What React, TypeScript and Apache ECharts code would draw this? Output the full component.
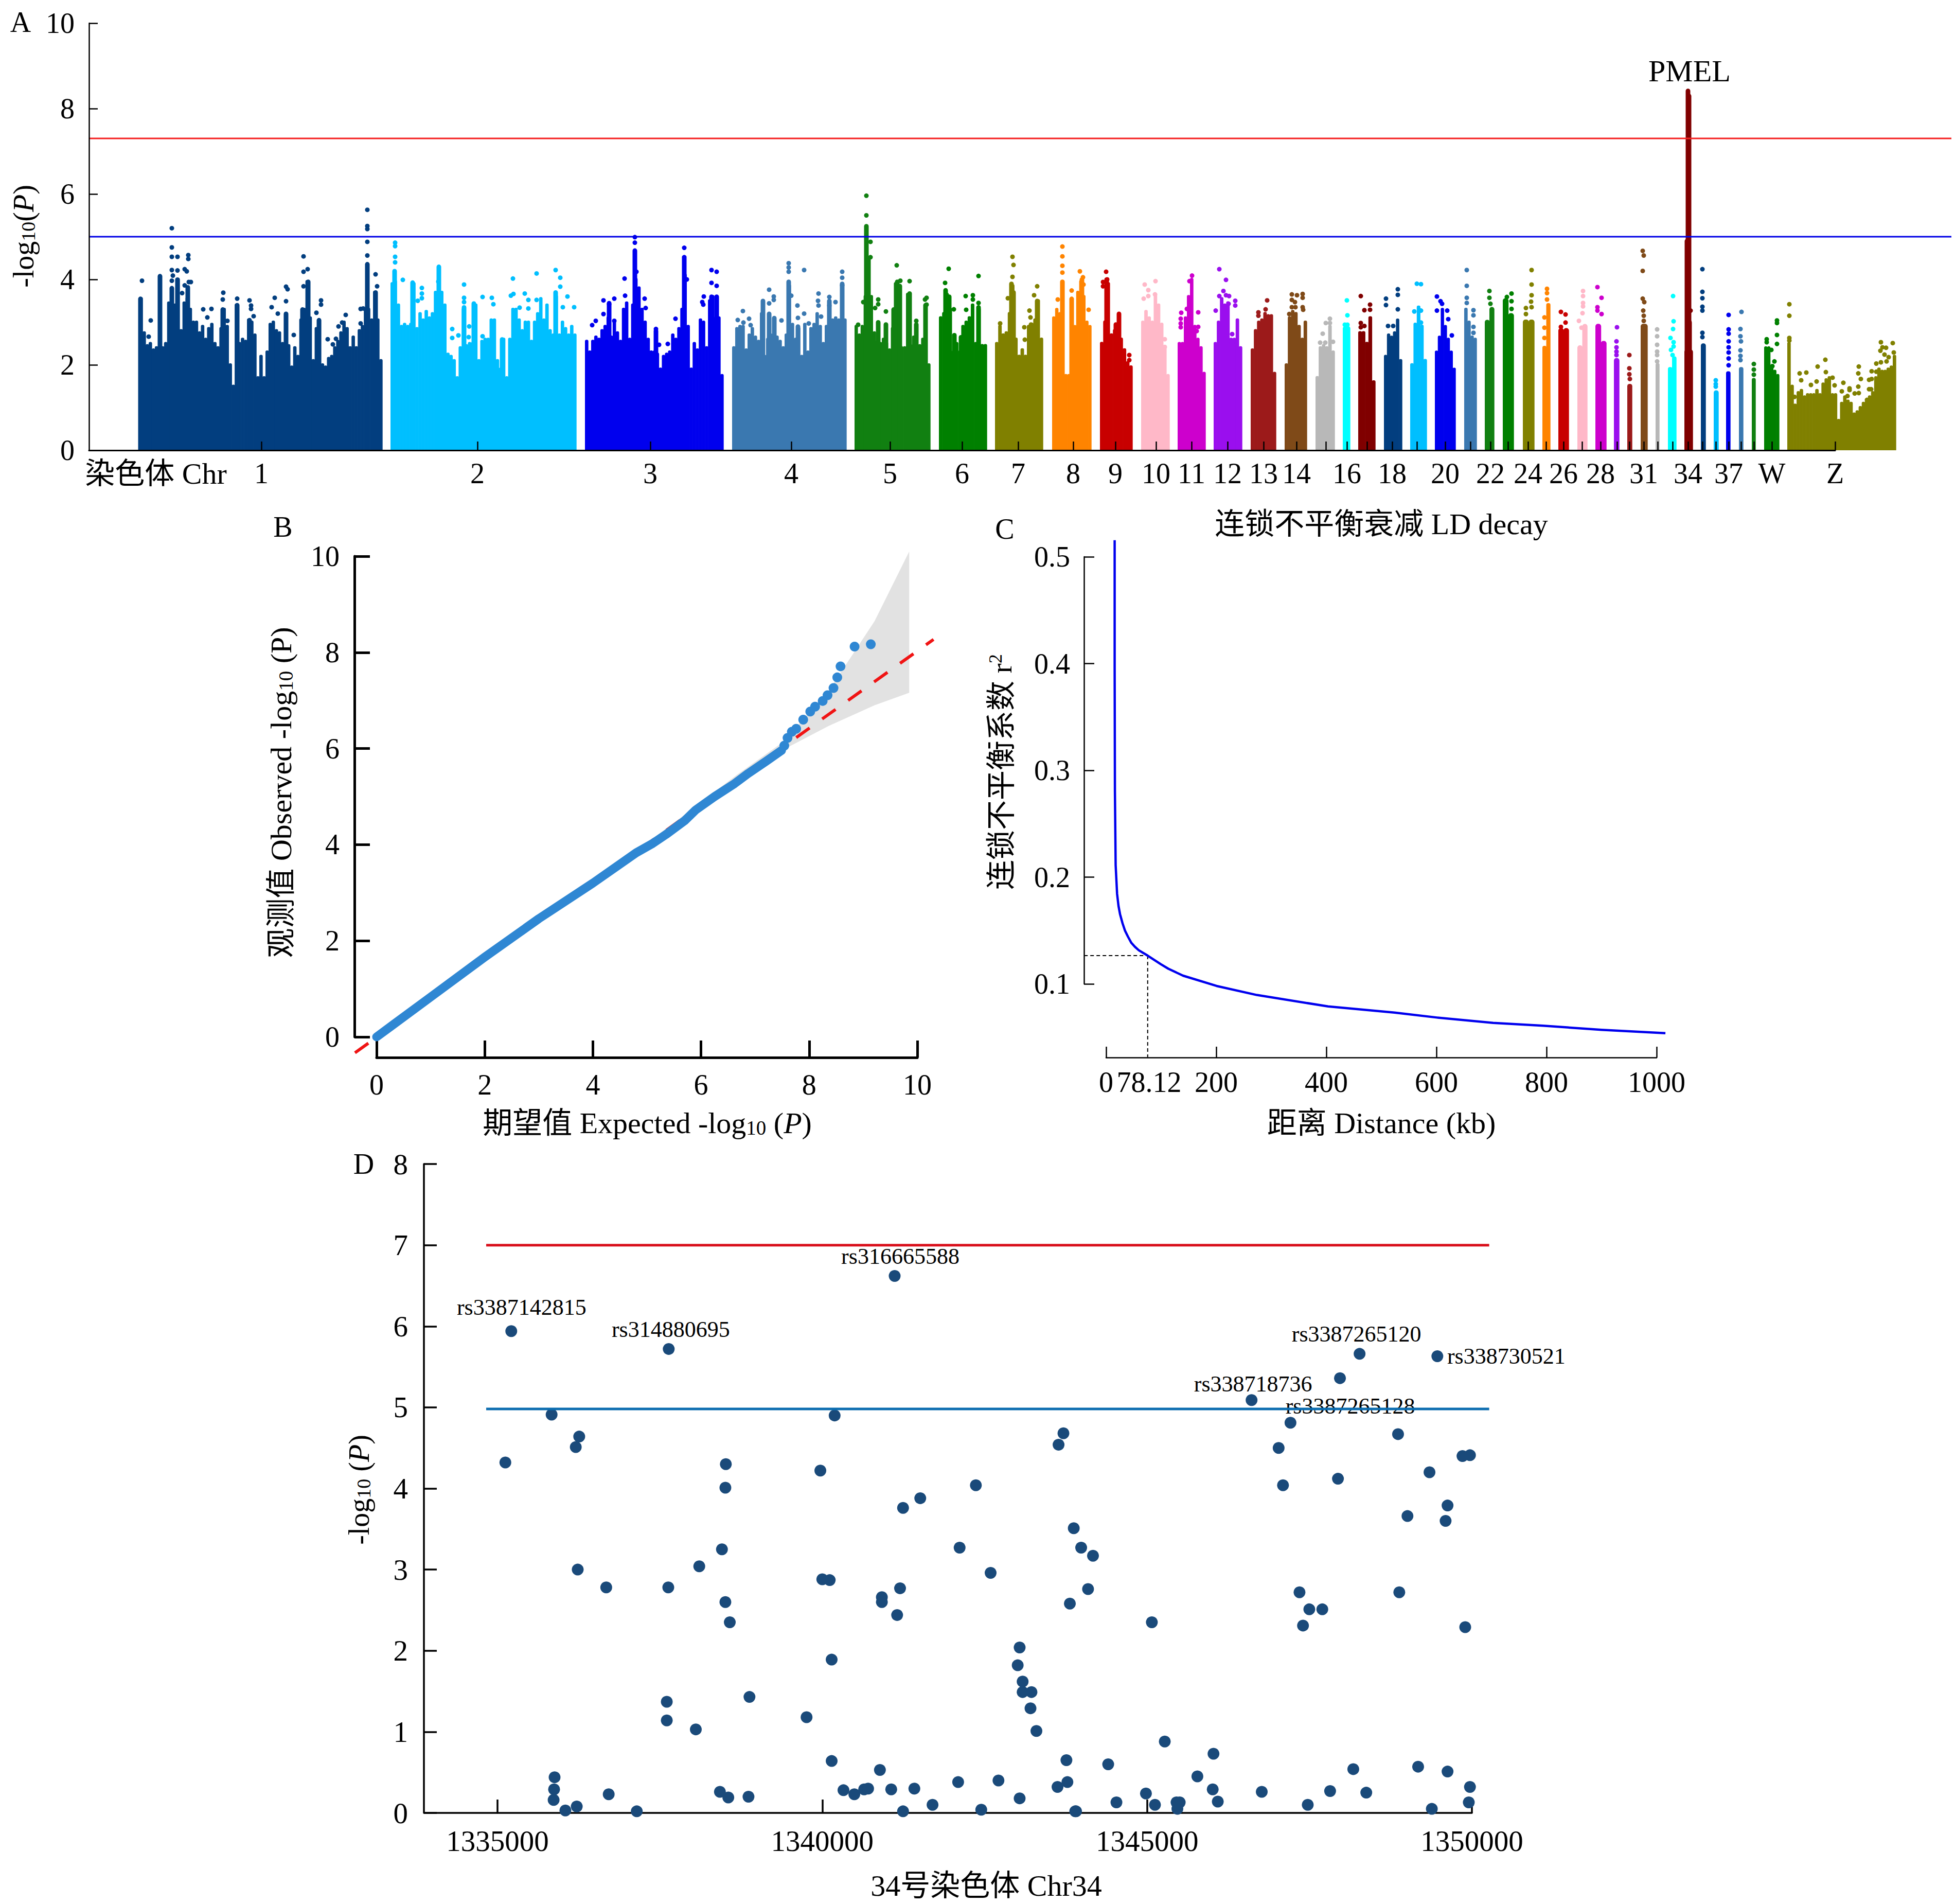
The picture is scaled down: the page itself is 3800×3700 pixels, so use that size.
import React, { useEffect, useRef } from "react";
import * as echarts from "echarts";

const FONT = '"Liberation Serif","Noto Sans CJK SC",serif';
const TICK = 56;

// ---------- Panel A: Manhattan plot ----------
const chromColors = ["#023e7f","#00bfff","#0000ee","#3a78b0","#118011","#008000","#808000","#ff8400","#c80000","#ffb8c8","#cd00cd","#9a0fee","#9c1a1a","#7f4a18","#b8b8b8","#00ffff","#800000","#023e7f","#00bfff","#0000ee","#3a78b0","#118011","#008000","#808000","#ff8400","#c80000","#ffb8c8","#cd00cd","#9a0fee","#9c1a1a","#7f4a18","#b8b8b8","#00ffff","#800000","#023e7f","#00bfff","#0000ee","#3a78b0","#118011","#008000","#808000"];
const chromStart = [98,586,964,1250,1488,1652,1761,1872,1965,2045,2116,2186,2258,2324,2384,2437,2467,2517,2568,2616,2673,2713,2748,2787,2825,2856,2893,2928,2964,2990,3016,3045,3069,3101,3133,3158,3182,3207,3232,3256,3301];
const chromEnd = [570,947,1233,1472,1635,1745,1854,1948,2028,2100,2170,2241,2307,2367,2421,2451,2500,2552,2600,2656,2697,2731,2769,2809,2840,2876,2912,2949,2974,2999,3029,3052,3085,3117,3142,3167,3190,3215,3239,3285,3512];
const chromTicks = [335,755,1091,1365,1557,1697,1806,1913,1995,2074,2143,2213,2283,2347,2404,2445,2484,2533,2581,2636,2685,2724,2758,2797,2832,2866,2902,2938,2970,2994,3022,3049,3078,3108,3136,3162,3187,3211,3236,3271,3394];
const chromLabels = ["1","2","3","4","5","6","7","8","9","10","11","12","13","14","","16","","18","","20","","22","","24","","26","","28","","","31","","","34","","","37","","","W","Z"];

const chr1H = [3.55,2.75,2.45,2.5,2.35,2.4,4.08,2.4,2.5,3.45,3.8,3.4,4.0,2.8,3.45,3.55,3.3,3.0,3.0,2.75,2.9,2.6,2.85,2.95,2.5,2.4,2.85,3.3,2.9,2.0,1.5,3.4,2.5,2.6,2.55,3.05,3.0,2.7,1.7,2.2,1.7,2.3,2.95,3.0,2.8,2.75,2.5,3.2,2.45,1.95,2.4,2.2,3.05,3.3,3.95,3.1,2.1,2.85,3.05,2.0,1.95,2.15,2.2,2.4,2.55,2.75,3.0,2.85,2.4,2.65,2.4,2.8,2.9,3.3,3.3,3.05,3.7,3.05,2.1];
const chr2H = [3.9,3.95,3.4,2.9,2.95,2.9,2.95,3.9,2.85,3.2,3.05,3.25,3.1,3.2,3.7,3.85,3.7,3.4,2.25,2.2,2.1,1.7,2.4,3.3,2.45,2.5,2.5,3.4,2.1,2.55,2.6,2.6,3.05,3.05,2.1,1.9,2.6,1.7,2.6,3.3,3.3,3.05,2.8,3.0,3.0,2.55,3.0,3.2,3.55,3.05,3.4,2.8,2.7,3.6,2.7,3.0,2.85,2.7,2.9,2.7];
const chr3H = [2.55,2.3,2.55,2.65,2.6,2.8,2.9,3.1,2.65,3.0,2.75,2.55,3.3,3.45,2.6,3.4,4.0,3.8,3.3,3.0,2.6,2.3,2.3,2.25,1.9,2.2,2.25,2.3,2.7,2.6,2.85,3.3,4.1,2.9,1.9,2.5,2.35,3.05,3.0,2.4,3.5,3.6,3.1,3.1,1.75];
const chr4H = [2.4,2.85,2.9,2.9,2.35,2.7,2.85,2.65,2.55,3.2,2.2,2.6,2.7,2.9,2.65,2.55,2.4,2.7,3.85,2.95,2.6,2.85,2.2,2.95,2.3,2.85,2.95,3.2,2.9,2.5,2.9,3.3,3.05,3.1,3.05,3.85,3.05];
const chr5H = [2.9,2.7,2.9,3.6,4.4,3.6,2.75,2.55,2.5,2.6,2.5,2.35,2.85,3.9,3.85,2.4,2.4,3.65,2.45,2.65,2.3,2.45,2.6,3.0,2.0];
const chr6H = [3.1,3.2,3.65,3.3,2.3,2.5,2.3,2.9,3.0,3.1,3.4,2.5,3.3,2.45,2.45];
const chr7H = [2.5,2.9,2.7,2.75,3.2,3.85,2.6,2.2,2.35,2.2,2.9,2.95,3.05,3.5,2.6];
const chr8H = [3.1,3.3,3.2,3.95,1.75,1.75,3.55,2.9,3.7,3.95,3.6,3.0,2.9];
const chr9H = [2.5,3.0,3.9,2.7,2.8,2.9,2.6,2.35,2.05,1.95];
const chr10H = [3.0,3.25,3.1,3.0,3.65,3.4,2.95,2.4,1.75];
const chr11H = [2.5,2.5,3.1,3.6,4.0,2.9,2.6,2.4,1.8];
const chr12H = [2.5,3.0,3.55,3.4,3.45,2.6,2.6,3.05,2.4];
const chr13H = [2.35,2.8,3.0,3.05,3.2,3.15,3.15,1.8];
const chr14H = [2.0,3.1,3.25,3.2,2.9,2.6,3.0];
const chr15H = [1.7,2.4,2.45,2.4,2.9,2.3];
const chr16H = [2.85];
const chr17H = [2.75,2.75,2.5,3.1,1.6];
const chr18H = [2.2,2.7,2.65,2.75,3.05,2.1];
const chr19H = [2.0,2.95,3.35,2.9,2.1];
const chr20H = [2.3,2.65,3.3,2.9,2.6,2.3,1.9];
const chr21H = [3.3,3.0,2.65,2.6];
const chr22H = [3.0,3.3];
const chr23H = [3.5,3.15];
const chr24H = [3.0,3.0];
const chr25H = [2.4,3.4];
const chr26H = [2.8,2.8];
const chr27H = [2.4,2.9];
const chr28H = [2.9,2.5];
const chr29H = [2.1];
const chr30H = [1.5];
const chr31H = [2.9];
const chr32H = [2.0];
const chr33H = [1.9,2.15];
const chr34H = [2.3];
const chr35H = [2.45];
const chr36H = [1.35];
const chr37H = [1.8];
const chr38H = [1.9];
const chr39H = [1.65];
const chrWH = [2.4,2.4,1.95,1.85,1.75];
const chrZH = [2.5,1.5,1.0,1.35,1.4,1.25,1.3,1.3,1.3,1.4,1.3,1.55,1.65,1.7,1.3,1.3,0.7,1.1,1.25,1.15,1.1,0.85,0.9,1.0,1.1,1.15,1.25,1.35,1.7,1.9,1.85,1.85,1.9,1.95,2.2];

// narrow stacks of dots: [position, top]
const chr1S = [[100,3.55],[138,4.08],[161,3.8],[172,4.0],[192,3.82],[260,3.3],[288,3.4],[312,3.05],[383,3.2],[415,3.3],[426,3.95],[447,3.05],[541,4.36],[557,3.7]];
const chr2S = [[594,4.2],[629,3.93],[680,4.3],[729,3.35],[748,3.44],[803,2.6],[907,3.7]];
const chr3S = [[1011,3.45],[1061,4.68],[1102,2.8],[1157,4.5],[1210,3.6],[1220,3.6]];
const chr4S = [[1310,3.5],[1322,3.2],[1332,3.1],[1360,3.95],[1378,2.9],[1439,3.5],[1464,3.9]];
const chr5S = [[1511,5.25],[1515,4.5],[1534,3.0],[1549,2.95],[1564,3.3],[1571,3.95],[1576,3.85],[1595,3.65],[1608,2.95],[1626,3.4]];
const chr6S = [[1665,3.75],[1672,3.6],[1682,2.7],[1695,2.65],[1729,3.35]];
const chr7S = [[1793,3.9],[1797,3.7],[1831,2.95],[1843,3.5]];
const chr8S = [[1892,3.95],[1910,3.55],[1930,4.0]];
const chr9S = [[1978,4.0],[1996,2.95],[2002,3.2]];
const chr34S = [[3108,8.42],[3110,8.3],[3106,4.9],[3111,3.0]];

// isolated dots: [position, value]
const chr1D = [[103,3.97],[120,3.04],[116,2.66],[161,5.2],[161,4.75],[161,4.53],[161,4.22],[163,4.09],[161,3.97],[172,4.53],[172,4.21],[186,4.24],[190,4.19],[193,4.57],[193,4.48],[194,3.94],[198,3.94],[186,3.86],[181,3.68],[222,3.3],[238,3.31],[230,3.11],[261,3.69],[260,3.53],[269,3.03],[288,3.55],[312,3.51],[315,3.39],[315,3.31],[320,3.14],[361,3.57],[355,3.35],[367,3.2],[383,3.83],[386,3.77],[383,3.49],[398,2.7],[417,4.54],[417,4.18],[425,4.24],[417,3.84],[451,3.51],[451,3.41],[442,3.22],[464,2.6],[474,2.48],[480,2.61],[485,2.9],[492,2.99],[499,3.17],[528,3.31],[533,3.32],[528,2.97],[541,5.63],[541,5.25],[541,5.18],[541,4.88],[541,4.56],[557,4.12],[560,3.84]];
const chr2D = [[595,4.86],[595,4.78],[595,4.53],[595,4.4],[610,3.99],[647,3.8],[647,3.67],[647,3.56],[639,3.5],[679,3.95],[706,2.84],[706,2.63],[718,2.69],[729,3.88],[729,3.57],[729,3.47],[739,2.9],[738,2.65],[765,3.59],[783,3.57],[786,3.42],[765,2.67],[824,4.02],[825,3.66],[820,3.62],[847,3.67],[854,3.52],[854,3.32],[837,3.34],[870,4.14],[870,3.52],[907,4.22],[916,4.04],[916,3.83],[930,3.6],[921,3.35],[943,3.35]];
const chr3D = [[1061,4.99],[1061,4.86],[1157,4.74],[1157,4.52],[1210,4.22],[1220,4.18],[1210,3.92],[1220,3.85],[1041,4.02],[1042,3.62],[1000,3.51],[1021,3.55],[1011,3.42],[1080,3.55],[1082,3.33],[1064,4.18],[1162,4.0],[1195,3.6],[1192,3.47],[1194,3.41],[1140,3.08],[985,3.03],[978,2.93],[1000,3.19],[1102,2.84],[1021,3.03],[1125,2.49],[1108,2.47]];
const chr4D = [[1360,4.38],[1360,4.28],[1360,4.18],[1390,4.22],[1322,3.76],[1331,3.6],[1331,3.52],[1322,3.44],[1271,3.26],[1261,3.05],[1283,3.08],[1272,2.99],[1286,2.93],[1346,3.04],[1377,3.39],[1365,3.62],[1390,3.2],[1378,3.1],[1418,3.67],[1417,3.5],[1418,3.39],[1439,3.59],[1439,3.39],[1451,3.47],[1464,4.18],[1464,4.04],[1464,3.86],[1399,2.97],[1423,3.13]];
const chr5D = [[1511,5.96],[1511,5.5],[1519,4.88],[1519,4.52],[1570,4.33],[1577,3.97],[1595,3.96],[1595,3.67],[1534,3.53],[1534,3.42],[1528,3.33],[1549,3.25],[1505,3.47],[1628,3.57],[1625,3.53],[1628,3.41],[1495,2.94],[1608,3.03]];
const chr6D = [[1671,4.25],[1729,4.08],[1664,3.92],[1704,3.61],[1718,3.63],[1718,3.53],[1729,3.45],[1681,3.3],[1705,3.29]];
const chr7D = [[1795,4.53],[1797,4.34],[1795,4.06],[1843,3.84],[1837,3.63],[1786,3.56],[1828,3.27],[1830,3.11],[1818,2.88],[1819,2.59],[1771,2.97]];
const chr8D = [[1892,4.77],[1892,4.54],[1892,4.32],[1892,4.16],[1926,4.19],[1932,4.05],[1933,3.88],[1910,3.74],[1883,3.53],[1943,3.29]];
const chr9D = [[1977,4.18],[1979,4.0],[1971,3.94],[1971,3.84],[2022,2.23],[2022,2.11]];
const chr10D = [[2073,3.96],[2052,3.88],[2059,3.75],[2059,3.61],[2050,3.55],[2072,3.65],[2091,2.6],[2091,2.42]];
const chr11D = [[2144,4.09],[2139,3.96],[2123,3.22],[2122,3.08],[2122,2.97],[2122,2.88],[2156,3.23],[2156,2.89],[2153,2.79],[2134,3.31]];
const chr12D = [[2197,4.24],[2210,3.99],[2205,3.73],[2197,3.61],[2210,3.63],[2216,3.61],[2228,3.5],[2228,3.39],[2190,3.27],[2222,2.72],[2222,2.51],[2215,3.43]];
const chr13D = [[2290,3.51],[2273,3.23],[2273,3.15],[2287,3.3]];
const chr14D = [[2338,3.65],[2348,3.63],[2359,3.66],[2359,3.57],[2338,3.52],[2344,3.47],[2338,3.35],[2345,3.35],[2359,3.35],[2360,3.29],[2333,3.19]];
const chr15D = [[2412,3.08],[2404,2.98],[2412,2.98],[2398,2.73],[2403,2.52],[2393,2.52],[2418,2.54]];
const chr16D = [[2445,3.51],[2446,3.16],[2441,2.94],[2446,2.94]];
const chr17D = [[2472,3.61],[2490,3.41],[2490,3.29],[2479,3.28],[2472,2.98],[2472,2.88],[2479,2.91]];
const chr18D = [[2544,3.77],[2544,3.64],[2521,3.55],[2521,3.4],[2544,3.3],[2525,2.91],[2535,2.91]];
const chr19D = [[2581,3.9],[2589,3.89],[2576,3.25],[2589,3.27],[2589,2.99]];
const chr20D = [[2620,3.6],[2627,3.49],[2630,3.43],[2620,3.27],[2640,3.27],[2642,3.07],[2649,2.69]];
const chr21D = [[2678,4.22],[2678,3.85],[2678,3.57],[2678,3.45],[2691,3.28],[2691,3.16],[2691,2.89],[2691,2.75]];
const chr22D = [[2722,3.73],[2722,3.57],[2724,3.43]];
const chr23D = [[2765,3.67],[2765,3.49],[2756,3.59],[2765,3.31]];
const chr24D = [[2804,4.22],[2804,3.88],[2804,3.63],[2803,3.48],[2793,3.33],[2793,3.19],[2804,3.35]];
const chr25D = [[2834,3.78],[2834,3.68],[2834,3.53],[2829,3.11],[2829,2.87],[2829,2.63]];
const chr26D = [[2861,3.24],[2870,3.18],[2870,2.99],[2861,2.89]];
const chr27D = [[2904,3.73],[2904,3.61],[2904,3.45],[2904,3.37],[2903,3.21],[2896,3.03],[2901,2.87]];
const chr28D = [[2932,3.82],[2940,3.57],[2932,3.35],[2932,3.27],[2940,3.19]];
const chr29D = [[2970,2.88],[2969,2.55],[2969,2.41],[2969,2.31],[2969,2.23]];
const chr30D = [[2994,2.23],[2994,1.92],[2994,1.78],[2995,1.67]];
const chr31D = [[3020,4.67],[3022,4.56],[3020,4.2],[3020,3.55],[3023,3.47],[3021,3.27],[3022,3.15],[3022,3.03]];
const chr32D = [[3048,2.83],[3048,2.67],[3048,2.47],[3048,2.31],[3048,2.23],[3048,2.08]];
const chr33D = [[3079,3.61],[3080,3.02],[3079,2.84],[3074,2.63],[3080,2.53],[3080,2.43],[3075,2.35],[3078,2.23]];
const chr34D = [[3113,3.27]];
const chr35D = [[3136,4.24],[3136,3.71],[3136,3.56],[3136,3.36],[3136,3.27],[3136,2.75],[3136,2.65]];
const chr36D = [[3162,1.64],[3162,1.55],[3162,1.49]];
const chr37D = [[3187,3.17],[3187,2.83],[3187,2.73],[3187,2.55],[3187,2.41],[3187,2.29],[3187,2.15],[3187,1.99]];
const chr38D = [[3212,3.24],[3210,2.84],[3210,2.67],[3211,2.55],[3210,2.34],[3210,2.21],[3210,2.11]];
const chr39D = [[3236,2.02],[3236,1.89],[3236,1.77]];
const chrWD = [[3261,2.6],[3261,2.53],[3270,2.35],[3276,2.08],[3272,1.97],[3281,3.04],[3281,2.98],[3281,2.7],[3281,2.49]];
const chrZD = [[3305,3.42],[3305,3.15],[3305,2.63],[3305,2.57],[3325,1.8],[3338,1.82],[3328,1.64],[3347,1.53],[3358,1.61],[3360,1.96],[3375,2.12],[3376,1.83],[3389,1.7],[3393,1.52],[3410,1.58],[3407,1.38],[3422,1.45],[3422,1.41],[3440,1.96],[3439,1.8],[3444,1.67],[3439,1.49],[3440,1.34],[3460,1.65],[3465,1.85],[3465,1.67],[3474,1.84],[3474,2.03],[3483,2.06],[3483,2.53],[3486,2.41],[3493,2.4],[3482,2.33],[3490,2.24],[3498,2.18],[3494,2.08],[3506,2.51],[3508,2.29],[3460,1.43],[3464,1.43],[3456,1.18],[3432,1.33],[3418,1.27],[3315,1.25],[3316,1.04]];

const allHeights = [chr1H,chr2H,chr3H,chr4H,chr5H,chr6H,chr7H,chr8H,chr9H,chr10H,chr11H,chr12H,chr13H,chr14H,chr15H,chr16H,chr17H,chr18H,chr19H,chr20H,chr21H,chr22H,chr23H,chr24H,chr25H,chr26H,chr27H,chr28H,chr29H,chr30H,chr31H,chr32H,chr33H,chr34H,chr35H,chr36H,chr37H,chr38H,chr39H,chrWH,chrZH];
const allSpikes: Record<number, number[][]> = {0:chr1S,1:chr2S,2:chr3S,3:chr4S,4:chr5S,5:chr6S,6:chr7S,7:chr8S,8:chr9S,33:chr34S};
const allDots = [chr1D,chr2D,chr3D,chr4D,chr5D,chr6D,chr7D,chr8D,chr9D,chr10D,chr11D,chr12D,chr13D,chr14D,chr15D,chr16D,chr17D,chr18D,chr19D,chr20D,chr21D,chr22D,chr23D,chr24D,chr25D,chr26D,chr27D,chr28D,chr29D,chr30D,chr31D,chr32D,chr33D,chr34D,chr35D,chr36D,chr37D,chr38D,chr39D,chrWD,chrZD];

const genomeWideLine = 7.3;
const suggestiveLine = 5;
const manhattanLineEnd = 3620;

// ---------- Panel B: QQ plot ----------
const qqLine = [[0,0],[1,0.83],[2,1.66],[3,2.46],[4,3.2],[4.8,3.83],[5.1,4.02],[5.35,4.21],[5.7,4.5],[5.9,4.72],[6.25,5.0],[6.62,5.27],[6.87,5.48],[7.21,5.74],[7.49,5.96]];
const qqDots = [[7.54,6.06],[7.6,6.22],[7.68,6.35],[7.76,6.41],[7.89,6.6],[8.02,6.77],[8.11,6.87],[8.25,6.99],[8.34,7.11],[8.45,7.26],[8.52,7.48],[8.58,7.71],[8.84,8.12],[9.14,8.17]];
const qqDiagonal = [[-0.4,-0.33],[10.3,8.27]];
const qqBand = [[4.96,4.0],[5.81,4.72],[6.66,5.45],[7.51,6.13],[8.36,7.2],[9.21,8.65],[9.85,10.1],[9.85,7.16],[9.21,6.9],[8.36,6.47],[7.51,5.97],[6.66,5.29],[5.81,4.64],[4.96,3.95]];

// ---------- Panel C: LD decay ----------
const ldCurve = [[15.5,0.5155],[15.5,0.3957],[16,0.2805],[17.3,0.2114],[19.9,0.1845],[22.5,0.173],[25.3,0.1653],[29.8,0.1568],[34.3,0.1499],[39.7,0.1442],[45.9,0.1384],[52.2,0.1348],[59.3,0.1315],[75.5,0.1265],[99.6,0.1184],[113,0.1142],[139.8,0.1077],[200.6,0.0981],[273.9,0.0896],[403.3,0.0789],[524,0.0731],[601,0.0685],[703,0.0635],[794,0.0608],[900,0.057],[1016,0.0539]];
const ldHalfX = 75.5;
const ldHalfY = 0.1265;
const ldXLabels = [0,78.12,200,400,600,800,1000];
const ldXTicks = [0,200,400,600,800,1000];

// ---------- Panel D: regional plot ----------
const chr34Points = [[1335121,4.32],[1335833,4.91],[1336258,4.64],[1336205,4.51],[1338515,4.30],[1338508,4.01],[1339970,4.22],[1340190,4.90],[1342364,4.04],[1341243,3.76],[1341508,3.88],[1342114,3.27],[1338455,3.25],[1338106,3.04],[1336235,3.00],[1336674,2.78],[1337629,2.78],[1340000,2.88],[1340114,2.87],[1342591,2.96],[1341197,2.77],[1340917,2.66],[1340917,2.60],[1338508,2.60],[1341152,2.44],[1338576,2.35],[1343038,2.04],[1340144,1.89],[1343008,1.82],[1343084,1.62],[1343084,1.49],[1343220,1.49],[1343205,1.29],[1343296,1.01],[1338879,1.43],[1337606,1.37],[1337606,1.14],[1338053,1.03],[1339758,1.18],[1340144,0.64],[1340887,0.53],[1335879,0.44],[1335871,0.29],[1335864,0.16],[1336045,0.03],[1336220,0.08],[1336712,0.23],[1337144,0.02],[1338424,0.26],[1338553,0.19],[1338864,0.20],[1340326,0.28],[1340493,0.23],[1340644,0.29],[1340705,0.30],[1341061,0.29],[1341243,0.02],[1341417,0.30],[1341697,0.10],[1342091,0.38],[1342447,0.04],[1342712,0.40],[1343038,0.18],[1343621,0.32],[1343773,0.38],[1343758,0.65],[1343894,0.02],[1343637,4.54],[1343712,4.68],[1343871,3.51],[1343985,3.27],[1344167,3.17],[1344091,2.76],[1343811,2.58],[1344401,0.60],[1347207,4.81],[1347025,4.50],[1348863,4.67],[1347092,4.04],[1347938,4.12],[1349347,4.20],[1349855,4.40],[1349970,4.41],[1349625,3.79],[1349008,3.66],[1349595,3.60],[1347346,2.72],[1347497,2.51],[1347697,2.51],[1347400,2.31],[1348882,2.72],[1349897,2.29],[1345073,2.35],[1345272,0.88],[1346022,0.73],[1345774,0.45],[1346010,0.29],[1346088,0.14],[1344982,0.24],[1345121,0.10],[1344528,0.13],[1343906,0.02],[1345453,0.13],[1345502,0.13],[1345466,0.05],[1346765,0.26],[1347473,0.10],[1347817,0.27],[1348374,0.25],[1348174,0.54],[1349172,0.57],[1349625,0.51],[1349970,0.32],[1349952,0.13],[1349383,0.05]];
const snpNames = ["rs3387142815","rs314880695","rs316665588","rs3387265120","rs338730521","rs338718736","rs3387265128"];
const snpPoints = [[1335212,5.94],[1337636,5.72],[1341114,6.62],[1348271,5.66],[1349468,5.63],[1346608,5.09],[1347969,5.36]];
const snpLabelOffsets = [[20,-46],[4,-38],[11,-38],[-6,-38],[134,0],[3,-31],[20,54]];
const regionThresholdHigh = 7;
const regionThresholdLow = 4.98;

const axisText = (size = TICK) => ({ color: "#000", fontFamily: FONT, fontSize: size });
const line = (w: number) => ({ show: true, onZero: false, lineStyle: { color: "#000", width: w } });

function text(x: number, y: number, str: string, extra: any = {}, rotation = 0) {
  return {
    type: "text", x, y, rotation, silent: true, z: 20,
    style: { text: str, fill: "#000", fontFamily: FONT, fontSize: 58, align: "center", verticalAlign: "middle", ...extra },
  };
}
const rich = (size: number) => ({
  sub: { fontFamily: FONT, fontSize: Math.round(size * 0.68), color: "#000", verticalAlign: "bottom", padding: [14, 0, 0, 0] },
  i: { fontFamily: FONT, fontSize: size, fontStyle: "italic", color: "#000" },
  sup: { fontFamily: FONT, fontSize: Math.round(size * 0.62), color: "#000", verticalAlign: "top", padding: [0, 0, 18, 0] },
});

function App() {
  const ref = useRef<HTMLDivElement>(null);
  useEffect(() => {
    const chart = echarts.init(ref.current!, undefined, { renderer: "svg" });

    const columnData: number[][] = [];
    const stemData: number[][] = [];
    const dotData: number[][] = [];
    allHeights.forEach((hs, c) => {
      const w = (chromEnd[c] - chromStart[c]) / hs.length;
      hs.forEach((h, i) => columnData.push([chromStart[c] + i * w, chromStart[c] + (i + 1) * w, h, c]));
      (allSpikes[c] || []).forEach((s) => stemData.push([s[0], s[1], c]));
      allDots[c].forEach((d) => dotData.push([d[0], d[1], c]));
    });

    const renderColumn = (_: any, api: any) => {
      const a = api.coord([api.value(0), api.value(2)]);
      const b = api.coord([api.value(1), 0]);
      const r = Math.min((b[0] - a[0]) / 2, 5);
      return { type: "rect", silent: true, shape: { x: a[0], y: a[1] - r, width: b[0] - a[0] + 0.7, height: b[1] - a[1] + r, r: [r, r, 0, 0] }, style: { fill: chromColors[api.value(3)] } };
    };
    const renderStem = (_: any, api: any) => {
      const a = api.coord([api.value(0), api.value(1)]);
      const b = api.coord([api.value(0), 0]);
      return { type: "rect", silent: true, shape: { x: a[0] - 4.5, y: a[1] - 4, width: 9, height: b[1] - a[1] + 4, r: [4.5, 4.5, 0, 0] }, style: { fill: chromColors[api.value(2)] } };
    };
    const renderBand = (params: any, api: any) => {
      if (params.dataIndex !== 0) return null;
      return { type: "polygon", silent: true, shape: { points: qqBand.map((p) => api.coord(p)) }, style: { fill: "#e2e2e2" } };
    };

    const polyline = (gi: number, pts: number[][], color: string, width: number, z = 6, dash?: number[], cap = "butt") => ({
      type: "custom", xAxisIndex: gi, yAxisIndex: gi, data: pts, encode: { x: 0, y: 1 }, silent: true, z,
      renderItem: (params: any, api: any) => {
        if (params.dataIndex !== 0) return null;
        return {
          type: "polyline", silent: true,
          shape: { points: pts.map((p) => api.coord(p)) },
          style: { stroke: color, lineWidth: width, fill: "none", lineDash: dash, lineCap: cap, lineJoin: "round" },
        };
      },
    });

    chart.setOption({
      animation: false,
      backgroundColor: "#fff",
      tooltip: { show: false },
      grid: [
        { left: 173, top: 45, width: 3394, height: 830 },
        { left: 732, top: 1081, width: 1051, height: 934 },
        { left: 2150, top: 1082, width: 1070, height: 830 },
        { left: 967, top: 2262, width: 1894, height: 1261 },
      ],
      xAxis: [
        {
          gridIndex: 0, type: "value", min: 0, max: 3394, z: 10, splitLine: { show: false },
          axisLine: line(3),
          axisTick: { show: true, inside: true, length: 17, lineStyle: { color: "#000", width: 2.5 }, customValues: chromTicks },
          axisLabel: {
            ...axisText(), margin: 17, customValues: chromTicks.filter((_, i) => chromLabels[i] !== ""),
            formatter: (v: number) => chromLabels[chromTicks.indexOf(v)],
          },
        },
        {
          gridIndex: 1, type: "value", min: 0, max: 10, interval: 2, offset: 40, splitLine: { show: false },
          axisLine: line(5),
          axisTick: { show: true, inside: true, length: 33, lineStyle: { color: "#000", width: 5 } },
          axisLabel: { ...axisText(), margin: 25 },
        },
        {
          gridIndex: 2, type: "value", min: 0, max: 1000, offset: 143, splitLine: { show: false },
          axisLine: line(2.5),
          axisTick: { show: true, inside: true, length: 21, lineStyle: { color: "#000", width: 2.5 }, customValues: ldXTicks },
          axisLabel: {
            ...axisText(), margin: 20, customValues: ldXLabels, hideOverlap: false,
            formatter: (v: number) => String(v),
          },
        },
        {
          gridIndex: 3, type: "value", min: 1335000, max: 1350000, interval: 5000, splitLine: { show: false },
          axisLine: line(3.5),
          axisTick: { show: true, inside: true, length: 26, lineStyle: { color: "#000", width: 3.5 } },
          axisLabel: { ...axisText(57), margin: 26, formatter: (v: number) => String(v) },
        },
      ],
      yAxis: [
        {
          gridIndex: 0, type: "value", min: 0, max: 10, interval: 2, splitLine: { show: false }, z: 10,
          axisLine: line(2.5),
          axisTick: { show: true, inside: true, length: 17, lineStyle: { color: "#000", width: 2.5 } },
          axisLabel: { ...axisText(), margin: 28 },
        },
        {
          gridIndex: 1, type: "value", min: 0, max: 10, interval: 2, offset: 43, splitLine: { show: false },
          axisLine: line(5),
          axisTick: { show: true, inside: true, length: 30, lineStyle: { color: "#000", width: 5 } },
          axisLabel: { ...axisText(), margin: 29 },
        },
        {
          gridIndex: 2, type: "value", min: 0.1, max: 0.5, interval: 0.1, offset: 43, splitLine: { show: false },
          axisLine: line(2.5),
          axisTick: { show: true, inside: true, length: 20, lineStyle: { color: "#000", width: 2.5 } },
          axisLabel: { ...axisText(), margin: 27, formatter: (v: number) => v.toFixed(1) },
        },
        {
          gridIndex: 3, type: "value", min: 0, max: 8, interval: 1, offset: 143, splitLine: { show: false },
          axisLine: line(3.5),
          axisTick: { show: true, inside: true, length: 25, lineStyle: { color: "#000", width: 3.5 } },
          axisLabel: { ...axisText(57), margin: 31 },
        },
      ],
      series: [
        // A
        { type: "custom", xAxisIndex: 0, yAxisIndex: 0, data: columnData, encode: { x: [0, 1], y: 2 }, renderItem: renderColumn, silent: true, z: 2 },
        { type: "custom", xAxisIndex: 0, yAxisIndex: 0, data: stemData, encode: { x: 0, y: 1 }, renderItem: renderStem, silent: true, z: 3 },
        {
          type: "scatter", xAxisIndex: 0, yAxisIndex: 0, data: dotData, symbolSize: 9, clip: false, silent: true, z: 4,
          itemStyle: { color: (p: any) => chromColors[p.value[2]], opacity: 1 },
        },
        polyline(0, [[0, genomeWideLine], [manhattanLineEnd, genomeWideLine]], "#f51e1e", 3),
        polyline(0, [[0, suggestiveLine], [manhattanLineEnd, suggestiveLine]], "#0000e6", 3),
        // B
        { type: "custom", xAxisIndex: 1, yAxisIndex: 1, data: qqBand, encode: { x: 0, y: 1 }, renderItem: renderBand, silent: true, z: 1 },
        polyline(1, qqDiagonal, "#f01414", 6, 2, [32, 30]),
        polyline(1, qqLine, "#2f87d3", 17, 3, undefined, "round"),
        {
          type: "scatter", xAxisIndex: 1, yAxisIndex: 1, data: qqDots, symbolSize: 19, clip: false, silent: true, z: 4,
          itemStyle: { color: "#2f87d3", opacity: 1 },
        },
        // C
        polyline(2, [[-40, ldHalfY], [ldHalfX, ldHalfY]], "#000", 2, 2, [7, 5]),
        polyline(2, [[ldHalfX, ldHalfY], [ldHalfX, 0.0313]], "#000", 2, 2, [7, 5]),
        polyline(2, ldCurve, "#0000ee", 4.5, 3),
        // D
        polyline(3, [[1333868, 0], [1335000, 0]], "#000", 3.5),
        polyline(3, [[1334826, regionThresholdHigh], [1350266, regionThresholdHigh]], "#d9101c", 5),
        polyline(3, [[1334826, regionThresholdLow], [1350266, regionThresholdLow]], "#0b6cb0", 5),
        {
          type: "scatter", xAxisIndex: 3, yAxisIndex: 3, data: chr34Points, symbolSize: 23, clip: false, silent: true, z: 4,
          itemStyle: { color: "#1a4a7a", opacity: 1 },
        },
        {
          type: "scatter", xAxisIndex: 3, yAxisIndex: 3, symbolSize: 23, clip: false, silent: true, z: 4,
          itemStyle: { color: "#1a4a7a", opacity: 1 },
          data: snpPoints.map((p, i) => ({
            value: p,
            label: {
              show: true, position: "inside", offset: snpLabelOffsets[i], formatter: snpNames[i],
              color: "#000", fontFamily: FONT, fontSize: 44,
            },
          })),
        },
      ],
      graphic: [
        text(40, 43, "A", { fontSize: 56 }),
        text(303, 920, "染色体 Chr"),
        text(46, 459, "-log{sub|10}({i|P})", { fontSize: 56, rich: rich(56) }, Math.PI / 2),
        text(3284, 138, "PMEL", { fontSize: 60 }),
        text(550, 1024, "B", { fontSize: 56 }),
        text(1258, 2182, "期望值 Expected -log{sub|10} ({i|P})", { rich: rich(58) }),
        text(546, 1540, "观测值 Observed -log{sub|10} (P)", { rich: rich(58) }, Math.PI / 2),
        text(1953, 1028, "C", { fontSize: 56 }),
        text(2685, 1018, "连锁不平衡衰减 LD decay"),
        text(2685, 2182, "距离 Distance (kb)"),
        text(1946, 1500, "连锁不平衡系数 r{sup|2}", { rich: rich(58) }, Math.PI / 2),
        text(707, 2262, "D", { fontSize: 56 }),
        text(698, 2895, "-log{sub|10} ({i|P})", { fontSize: 56, rich: rich(56) }, Math.PI / 2),
        text(1917, 3664, "34号染色体 Chr34"),
      ],
    });
    return () => chart.dispose();
  }, []);
  return <div ref={ref} style={{ position: "absolute", left: 0, top: 0, width: 3800, height: 3700 }} />;
}

export default App;
